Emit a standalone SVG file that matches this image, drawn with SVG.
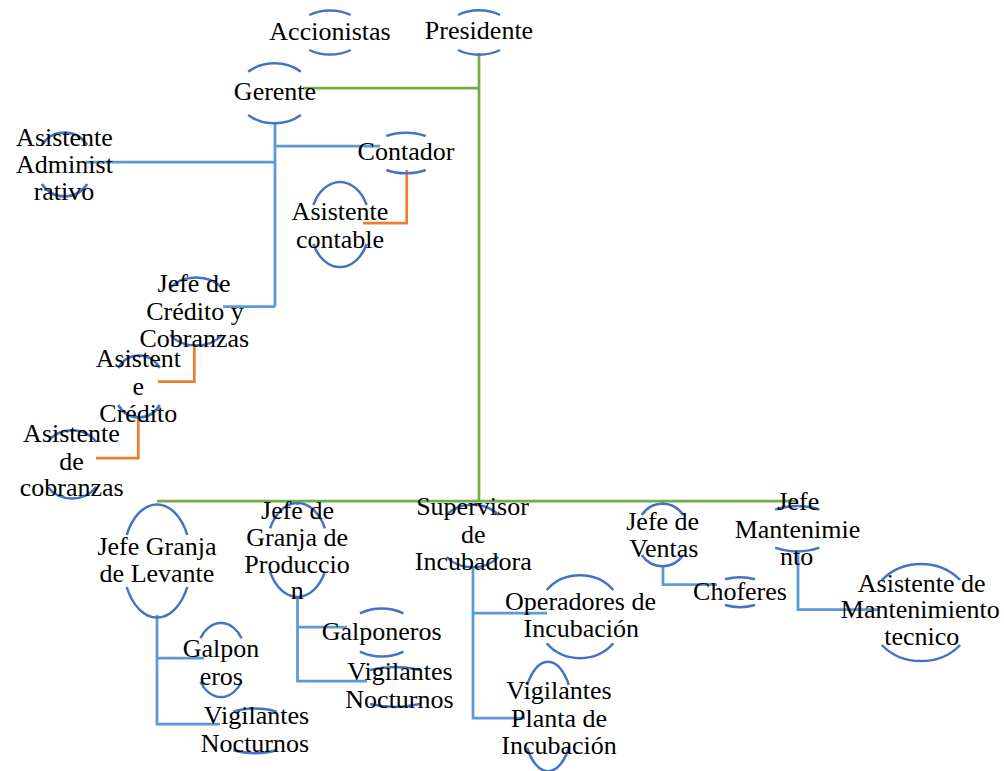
<svg xmlns="http://www.w3.org/2000/svg" width="1004" height="771" viewBox="0 0 1004 771">
<style>
.arc{fill:none;stroke:#4472C4;stroke-width:2.5}
.g{fill:none;stroke:#70AD47;stroke-width:2.75}
.b{fill:none;stroke:#5B9BD5;stroke-width:2.75}
.o{fill:none;stroke:#ED7D31;stroke-width:2.75}
text{font-family:"Liberation Serif","Times New Roman",serif;font-size:26px;fill:#000;text-anchor:middle}
</style>
<rect width="1004" height="771" fill="#fff"/>
<g id="connectors">
<path class="g" d="M479,53 V501 M303,88 H479 M157,501 H798 M297.5,501 V505 M663,501 V505"/>
<path class="b" d="M275,123 V306.5 M86,162 H275 M275,146 H380 M223,306.5 H275"/>
<path class="b" d="M157,615 V724 H220 M157,658 H204"/>
<path class="b" d="M297.5,598 V681 H367 M297.5,627 H347"/>
<path class="b" d="M473,567 V718 H525 M473,613 H547"/>
<path class="b" d="M663,567 V584.5 H717"/>
<path class="b" d="M798,552 V609.5 H880"/>
<path class="o" d="M406.7,170 V223 H363"/>
<path class="o" d="M194.3,346 V381.7 H158"/>
<path class="o" d="M138.3,417 V458 H96"/>
</g>
<g id="accionistas"><path class="arc" d="M309.3,15 A34,22 0 0 1 350.7,15 M350.7,50 A34,22 0 0 1 309.3,50"/><text x="330" y="40">Accionistas</text></g>
<g id="presidente"><path class="arc" d="M458,15 A34,22 0 0 1 500,15 M500,50 A34,22 0 0 1 458,50"/><text x="479" y="39">Presidente</text></g>
<g id="gerente"><path class="arc" d="M248.2,71.7 A38,30 0 0 1 300.8,71.7 M300.8,115 A38,30 0 0 1 248.2,115"/><text x="275" y="100">Gerente</text></g>
<g id="asistente-administrativo"><path class="arc" d="M41.7,145 A29,32.5 0 0 1 87.3,145 M87.3,184 A29,32.5 0 0 1 41.7,184"/><text x="64.5" y="146">Asistente</text><text x="64.5" y="173">Administ</text><text x="64" y="200">rativo</text></g>
<g id="contador"><path class="arc" d="M386.3,136 A36,20 0 0 1 425.7,136 M425.7,170 A36,20 0 0 1 386.3,170"/><text x="406" y="160">Contador</text></g>
<g id="asistente-contable"><path class="arc" d="M313.3,205 A30,42.5 0 0 1 366.7,205 M366.7,244 A30,42.5 0 0 1 313.3,244"/><text x="340" y="220">Asistente</text><text x="340" y="248">contable</text></g>
<g id="jefe-credito"><path class="arc" d="M170,288 A32,25 0 0 1 222,288 M222,335 A32,25 0 0 1 170,335"/><text x="194" y="292">Jefe de</text><text x="195" y="319.5">Crédito y</text><text x="194.3" y="346.5">Cobranzas</text></g>
<g id="asistente-credito"><path class="arc" d="M118.2,368 A25,28 0 0 1 159.8,368 M159.8,405 A25,28 0 0 1 118.2,405"/><text x="138.3" y="367">Asistent</text><text x="138.3" y="394.5">e</text><text x="138.3" y="421.5">Crédito</text></g>
<g id="asistente-cobranzas"><path class="arc" d="M47.8,441.7 A30,28 0 0 1 96.2,441.7 M96.2,487 A30,28 0 0 1 47.8,487"/><text x="71.5" y="442">Asistente</text><text x="71.5" y="469.5">de</text><text x="71.7" y="496">cobranzas</text></g>
<g id="jefe-granja-levante"><path class="arc" d="M126.7,535 A34,56 0 0 1 187.3,535 M187.3,587 A34,56 0 0 1 126.7,587"/><text x="157" y="555">Jefe Granja</text><text x="157" y="582">de Levante</text></g>
<g id="galponeros-levante"><path class="arc" d="M200.5,638.3 A24,32 0 0 1 241.5,638.3 M241.5,681.7 A24,32 0 0 1 200.5,681.7"/><text x="221" y="657">Galpon</text><text x="221.3" y="684.5">eros</text></g>
<g id="vigilantes-levante"><path class="arc" d="M233.3,711.7 A40,20 0 0 1 276.7,711.7 M276.7,750 A40,20 0 0 1 233.3,750"/><text x="256.5" y="723.5">Vigilantes</text><text x="255" y="751.5">Nocturnos</text></g>
<g id="jefe-granja-produccion"><path class="arc" d="M270,528.3 A31,47 0 0 1 325,528.3 M325,571.7 A31,47 0 0 1 270,571.7"/><text x="297.5" y="518.5">Jefe de</text><text x="297.2" y="546">Granja de</text><text x="297" y="573">Produccio</text><text x="297.3" y="599">n</text></g>
<g id="galponeros-produccion"><path class="arc" d="M360,613.3 A36,24 0 0 1 403.4,613.3 M403.4,651.7 A36,24 0 0 1 360,651.7"/><text x="381.7" y="640">Galponeros</text></g>
<g id="vigilantes-produccion"><path class="arc" d="M370,670 A50,20 0 0 1 420,670 M420,704 A50,20 0 0 1 370,704"/><text x="400" y="680">Vigilantes</text><text x="399.5" y="708">Nocturnos</text></g>
<g id="supervisor-incubadora"><path class="arc" d="M446.7,515 A32,25 0 0 1 498.3,515 M498.3,557 A32,25 0 0 1 446.7,557"/><text x="472.5" y="515">Supervisor</text><text x="473.3" y="543">de</text><text x="473.3" y="570">Incubadora</text></g>
<g id="operadores-incubacion"><path class="arc" d="M546.7,590 A42,38 0 0 1 613.3,590 M613.3,643.3 A42,38 0 0 1 546.7,643.3"/><text x="580.5" y="610">Operadores de</text><text x="581.3" y="637">Incubación</text></g>
<g id="vigilantes-planta"><path class="arc" d="M527.2,685 A25,52 0 0 1 568.8,685 M568.8,748 A25,52 0 0 1 527.2,748"/><text x="559" y="698.5">Vigilantes</text><text x="559" y="726.5">Planta de</text><text x="559" y="753.5">Incubación</text></g>
<g id="jefe-ventas"><path class="arc" d="M641.7,515 A26,28 0 0 1 683.3,515 M683.3,555 A26,28 0 0 1 641.7,555"/><text x="662.7" y="530">Jefe de</text><text x="663.8" y="557">Ventas</text></g>
<g id="choferes"><path class="arc" d="M725,579.3 A30,15 0 0 1 755,579.3 M755,605 A30,15 0 0 1 725,605"/><text x="740" y="600">Choferes</text></g>
<g id="jefe-mantenimiento"><path class="arc" d="M775.1,509.7 A40,22 0 0 1 819.5,509.7 M819.5,547.7 A40,22 0 0 1 775.1,547.7"/><text x="798.3" y="510">Jefe</text><text x="797.5" y="538">Mantenimie</text><text x="796.7" y="565">nto</text></g>
<g id="asistente-mantenimiento"><path class="arc" d="M881.8,580 A52,47 0 0 1 960.2,580 M960.2,645 A52,47 0 0 1 881.8,645"/><text x="921.7" y="591.7">Asistente de</text><text x="920.3" y="618.3">Mantenimiento</text><text x="921.7" y="645">tecnico</text></g>
</svg>
